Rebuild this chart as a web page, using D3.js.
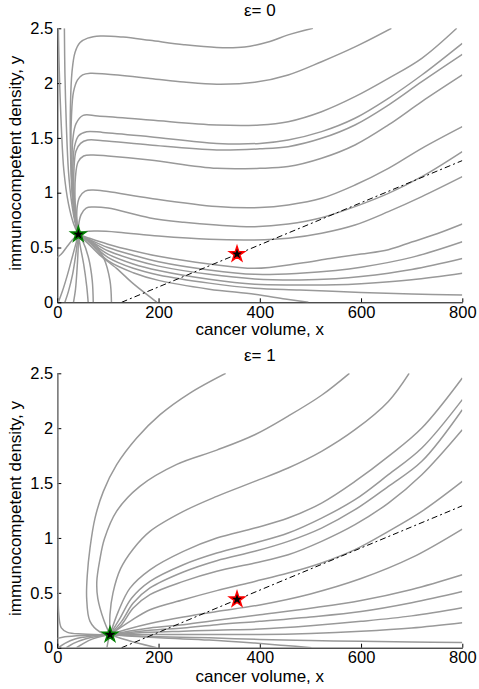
<!DOCTYPE html>
<html lang="en">
<head>
<meta charset="UTF-8">
<title>Phase portraits, eps = 0 and eps = 1</title>
<script src="https://d3js.org/d3.v7.min.js"></script>
<style>
  body { margin: 0; background: #fff; }
  svg { display: block; font-family: "Liberation Sans", Arial, sans-serif; }
  .traj { fill: none; stroke: #999; stroke-width: 1.5px; }
  .sep { fill: none; stroke: #000; stroke-width: 1px; stroke-dasharray: 6,3,2,3; }
  .axis path, .axis line { stroke: #000; }
  .axis text { font-size: 16.5px; fill: #000; font-family: "Liberation Sans", Arial, sans-serif; }
  .lbl { font-size: 17px; text-anchor: middle; fill: #000; }
</style>
</head>
<body>
<svg id="chart" width="479" height="689"></svg>
<script>
// ---- data ----
const xTicks = [0, 200, 400, 600, 800];
const yTicks = [0, 0.5, 1, 1.5, 2, 2.5];
const titles = ["ε= 0", "ε= 1"];
const separatrix = [[127, 0], [800, 1.293]];
const saddle = [355, 0.44];
const stableTop = [41.6, 0.62];
const stableBottom = [104.1, 0.118];

// eps = 0 : trajectories coming down from the top left
const topLeftDown = [
  [[2,2.5],[4,2.1],[8,1.6],[13,1.2],[22,0.9],[32,0.72],[41.6,0.62]],
  [[14,2.5],[15,2.1],[18,1.6],[22,1.2],[28,0.92],[35,0.73],[41.6,0.62]]
];
// eps = 0 : trajectories with a plateau that turn up on the right
const topUpper = [
  [[41.6,0.62],[34,0.78],[29,1.0],[26,1.4],[26,1.8],[29,2.1],[35,2.28],[45,2.37],[60,2.41],[85,2.43],[130,2.42],[183,2.39],[250,2.35],[315,2.325],[370,2.33],[420,2.38],[456,2.44],[505,2.5]],
  [[41.6,0.62],[35,0.77],[30,1.0],[27,1.35],[28,1.7],[32,1.92],[40,2.03],[50,2.075],[65,2.09],[100,2.08],[183,2.043],[250,2.01],[315,1.99],[390,2.007],[456,2.074],[522,2.195],[588,2.33],[660,2.5]],
  [[41.6,0.62],[35,0.76],[31,1.0],[29,1.3],[31,1.5],[37,1.63],[51,1.705],[80,1.7],[183,1.663],[315,1.618],[400,1.618],[456,1.648],[522,1.739],[588,1.876],[654,2.043],[720,2.226],[789,2.5]],
  [[41.6,0.62],[36,0.76],[32,1.0],[31,1.25],[34,1.42],[42,1.52],[58,1.557],[90,1.55],[183,1.511],[315,1.45],[400,1.45],[456,1.481],[522,1.557],[588,1.679],[654,1.861],[720,2.074],[800,2.363]],
  [[41.6,0.62],[37,0.76],[33,1.0],[33,1.22],[37,1.38],[46,1.45],[60,1.48],[90,1.475],[183,1.435],[315,1.39],[400,1.4],[456,1.42],[522,1.496],[588,1.618],[654,1.8],[720,2.013],[800,2.262]],
  [[41.6,0.62],[38,0.76],[35,0.95],[36,1.15],[41,1.28],[52,1.335],[70,1.344],[100,1.335],[183,1.298],[315,1.222],[400,1.222],[456,1.238],[522,1.314],[588,1.435],[654,1.618],[720,1.831],[800,2.074]],
  [[41.6,0.62],[39,0.72],[39,0.86],[44,0.96],[55,1.015],[70,1.025],[100,1.01],[183,0.949],[315,0.873],[400,0.864],[456,0.888],[522,0.949],[588,1.07],[654,1.222],[720,1.405],[800,1.603]],
  [[41.6,0.62],[42,0.7],[47,0.8],[57,0.86],[70,0.87],[100,0.86],[183,0.77],[250,0.73],[315,0.705],[390,0.69],[456,0.714],[522,0.772],[588,0.873],[654,0.994],[720,1.146],[800,1.375]],
  [[41.6,0.62],[55,0.645],[80,0.65],[120,0.64],[200,0.605],[300,0.575],[390,0.569],[456,0.584],[522,0.63],[588,0.705],[654,0.827],[720,0.964],[800,1.146]]
];
// eps = 0 : fan leaving the stable point to the lower right
const topFan = [
  [[41.6,0.62],[60,0.59],[100,0.53],[150,0.47],[200,0.42],[300,0.35],[390,0.31],[479,0.356],[539,0.4],[600,0.44],[654,0.48],[700,0.55],[750,0.625],[800,0.714]],
  [[41.6,0.62],[60,0.58],[100,0.5],[150,0.43],[200,0.37],[300,0.295],[390,0.255],[479,0.265],[550,0.29],[600,0.32],[700,0.41],[800,0.553]],
  [[41.6,0.62],[60,0.575],[100,0.47],[150,0.39],[200,0.33],[300,0.255],[390,0.213],[479,0.204],[550,0.215],[600,0.235],[700,0.3],[800,0.4]],
  [[41.6,0.62],[60,0.57],[100,0.44],[150,0.35],[200,0.29],[300,0.21],[390,0.164],[479,0.158],[550,0.16],[600,0.17],[700,0.205],[800,0.264]],
  [[41.6,0.62],[60,0.565],[100,0.41],[150,0.31],[200,0.25],[300,0.175],[390,0.128],[479,0.112],[600,0.09],[700,0.076],[800,0.067]],
  [[41.6,0.62],[60,0.56],[100,0.38],[150,0.27],[200,0.2],[300,0.12],[390,0.073],[450,0.03],[496,0]],
  [[41.6,0.62],[60,0.54],[84,0.43],[117,0.31],[150,0.17],[197,0]]
];
// eps = 0 : trajectories from the bottom / left edge into the stable point
const topLower = [
  [[0,0.41],[8,0.44],[18,0.5],[30,0.57],[41.6,0.62]],
  [[2,0],[10,0.1],[20,0.25],[30,0.42],[37,0.54],[41.6,0.62]],
  [[15,0],[22,0.1],[30,0.25],[36,0.42],[41.6,0.62]],
  [[32,0],[36,0.12],[39,0.3],[41,0.47],[41.6,0.62]],
  [[61,0],[58,0.15],[52,0.35],[45,0.52],[41.6,0.62]],
  [[71,0],[69,0.2],[62,0.4],[50,0.56],[41.6,0.62]],
  [[107,0],[104,0.2],[92,0.4],[70,0.55],[41.6,0.62]]
];

// eps = 1 : trajectories leaving the stable point upward / to the right
const bottomUpper = [
  [[104.1,0.118],[84.4,0.143],[64.6,0.24],[58,0.452],[59.3,0.665],[64.6,0.908],[74.5,1.181],[91,1.424],[117.3,1.667],[156.8,1.91],[203,2.123],[262,2.32],[332.6,2.5]],
  [[104.1,0.118],[92,0.25],[80,0.45],[78,0.6],[84,0.8],[93,0.99],[117,1.242],[163,1.47],[236,1.67],[315,1.8],[390,1.94],[456,2.11],[522,2.3],[577,2.5]],
  [[104.1,0.118],[104,0.3],[110,0.5],[125,0.72],[150,0.9],[183,1.06],[249,1.242],[315,1.379],[390,1.515],[456,1.637],[522,1.789],[588,1.986],[654,2.244],[695,2.5]],
  [[104.1,0.118],[120.6,0.331],[143.6,0.543],[183,0.71],[249,0.878],[315,0.999],[390,1.09],[456,1.181],[522,1.318],[588,1.515],[654,1.743],[720,2.001],[800,2.457]],
  [[104.1,0.118],[124,0.27],[147,0.452],[183,0.604],[249,0.756],[315,0.862],[390,0.954],[456,1.045],[522,1.181],[588,1.348],[654,1.576],[720,1.819],[800,2.26]],
  [[104.1,0.118],[127,0.24],[150,0.407],[183,0.544],[249,0.69],[315,0.793],[390,0.878],[456,0.969],[522,1.09],[588,1.257],[654,1.47],[720,1.698],[800,2.168]],
  [[104.1,0.118],[127,0.21],[150,0.361],[183,0.483],[249,0.604],[315,0.696],[390,0.772],[456,0.847],[522,0.969],[588,1.121],[654,1.318],[720,1.576],[800,1.986]],
  [[104.1,0.118],[143.6,0.24],[183,0.346],[249,0.437],[315,0.52],[390,0.604],[456,0.68],[522,0.772],[588,0.893],[654,1.06],[720,1.242],[800,1.515]]
];
// eps = 1 : lower fan to the right
const bottomFan = [
  [[104.1,0.118],[140,0.17],[183,0.22],[249,0.28],[315,0.33],[400,0.39],[500,0.49],[600,0.63],[700,0.82],[800,1.081]],
  [[104.1,0.118],[140,0.15],[183,0.18],[249,0.21],[315,0.25],[400,0.3],[500,0.36],[600,0.43],[700,0.53],[800,0.664]],
  [[104.1,0.118],[183,0.16],[249,0.18],[315,0.21],[400,0.24],[500,0.28],[600,0.33],[700,0.41],[800,0.512]],
  [[104.1,0.118],[183,0.14],[249,0.15],[315,0.16],[400,0.17],[500,0.2],[600,0.24],[700,0.29],[800,0.364]],
  [[104.1,0.118],[250,0.12],[400,0.12],[500,0.13],[600,0.15],[700,0.18],[800,0.228]],
  [[104.1,0.118],[200,0.1],[300,0.09],[400,0.075],[500,0.065],[600,0.058],[700,0.052],[800,0.048]],
  [[104.1,0.118],[200,0.09],[300,0.07],[390,0.042],[450,0.02],[502,0]],
  [[104.1,0.118],[130,0.08],[160,0.04],[196,0]]
];
// eps = 1 : trajectories from the left / bottom edges
const bottomLower = [
  [[1,2.5],[1,1.5],[1.5,0.6],[3,0.3],[8,0.18],[20,0.14],[50,0.125],[104.1,0.118]],
  [[0,0.085],[15,0.1],[50,0.112],[104.1,0.118]],
  [[2,0],[15,0.04],[35,0.08],[65,0.105],[104.1,0.118]],
  [[18,0],[32,0.04],[55,0.08],[80,0.105],[104.1,0.118]],
  [[38,0],[52,0.04],[70,0.08],[88,0.105],[104.1,0.118]],
  [[98,0],[100,0.05],[102,0.09],[104.1,0.118]]
];

// ---- layout ----
const svg = d3.select("#chart");
const left = 57.3, right = 462.3;

const panels = [
  { top: 28.3, bottom: 302.3, titleY: 16, xlabY: 335, stable: stableTop,
    curves: [...topLeftDown, ...topUpper, ...topFan, ...topLower] },
  { top: 373.3, bottom: 647.7, titleY: 361, xlabY: 682, stable: stableBottom,
    curves: [...bottomLower, ...bottomUpper, ...bottomFan] }
];

const x = d3.scaleLinear().domain([0, 800]).range([left, right]);

panels.forEach((p, i) => {
  const y = d3.scaleLinear().domain([0, 2.5]).range([p.bottom, p.top]);
  const g = svg.append("g");

  g.append("clipPath").attr("id", "clip" + i)
    .append("rect")
    .attr("x", left).attr("y", p.top)
    .attr("width", right - left).attr("height", p.bottom - p.top);

  g.append("g")
    .attr("class", "axis")
    .attr("transform", `translate(0,${p.bottom})`)
    .call(d3.axisBottom(x).tickValues(xTicks).tickSizeInner(-4).tickSizeOuter(0).tickPadding(4));

  g.append("g")
    .attr("class", "axis")
    .attr("transform", `translate(${left},0)`)
    .call(d3.axisLeft(y).tickValues(yTicks).tickFormat(d3.format("~g")).tickSizeInner(-4).tickSizeOuter(0).tickPadding(4));

  const line = d3.line()
    .x(d => x(d[0]))
    .y(d => y(d[1]))
    .curve(d3.curveCatmullRom.alpha(0.5));

  const plot = g.append("g").attr("clip-path", `url(#clip${i})`);

  plot.selectAll(".traj")
    .data(p.curves)
    .enter()
    .append("path")
    .attr("class", "traj")
    .attr("d", line);

  plot.append("path")
    .datum(separatrix)
    .attr("class", "sep")
    .attr("d", d3.line().x(d => x(d[0])).y(d => y(d[1])));

  const star = d3.symbol().type(d3.symbolStar).size(70);

  g.append("path")
    .attr("d", star)
    .attr("transform", `translate(${x(p.stable[0])},${y(p.stable[1])})`)
    .attr("fill", "#000")
    .attr("stroke", "#008000")
    .attr("stroke-width", 1.5);

  g.append("path")
    .attr("d", star)
    .attr("transform", `translate(${x(saddle[0])},${y(saddle[1])})`)
    .attr("fill", "#000")
    .attr("stroke", "#ff0000")
    .attr("stroke-width", 1.5);

  // labels
  g.append("text")
    .attr("class", "lbl")
    .attr("x", (left + right) / 2)
    .attr("y", p.titleY)
    .text(titles[i]);

  g.append("text")
    .attr("class", "lbl")
    .attr("x", (left + right) / 2)
    .attr("y", p.xlabY)
    .text("cancer volume, x");

  g.append("text")
    .attr("class", "lbl")
    .attr("transform", `translate(21,${(p.top + p.bottom) / 2 - 2}) rotate(-90)`)
    .text("immunocompetent density, y");
});
</script>
</body>
</html>
